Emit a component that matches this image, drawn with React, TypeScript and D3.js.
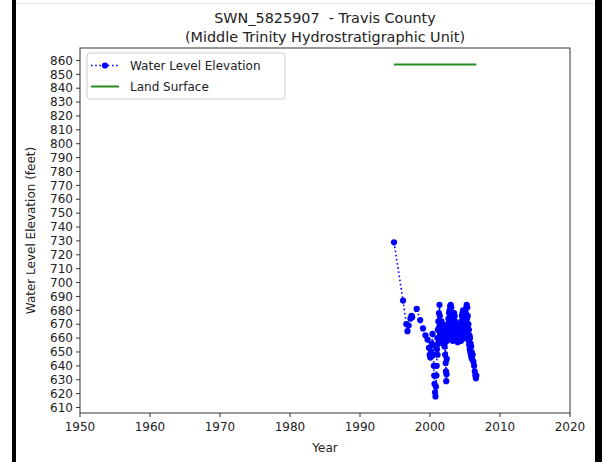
import React from 'react';
import * as d3 from 'd3';

// Observed water level elevations [year, feet]
const waterLevels: [number, number][] = [
  [1994.86, 729], [1996.15, 687], [1996.62, 670], [1996.78, 665], [1996.95, 669],
  [1997.2, 674], [1997.35, 676], [1997.45, 675], [1998.1, 681], [1998.6, 673],
  [1999.0, 667], [1999.35, 662], [1999.65, 659], [1999.85, 653], [1999.95, 648],
  [2000.05, 646], [2000.15, 650], [2000.25, 656], [2000.35, 663], [2000.42, 655],
  [2000.5, 648], [2000.55, 640], [2000.6, 633], [2000.65, 627], [2000.72, 621],
  [2000.78, 618], [2000.85, 625], [2000.92, 633], [2000.96, 640],
  [2001.0, 652], [2001.04, 660], [2001.08, 648], [2001.12, 666], [2001.16, 656],
  [2001.2, 672], [2001.24, 660], [2001.28, 678], [2001.32, 668], [2001.36, 684],
  [2001.4, 676], [2001.44, 664], [2001.48, 670], [2001.52, 658], [2001.56, 668],
  [2001.6, 660], [2001.64, 672], [2001.68, 657], [2001.72, 666], [2001.76, 659],
  [2001.8, 670], [2001.84, 662], [2001.88, 668], [2001.92, 656], [2001.96, 664],
  [2002.0, 658], [2002.04, 668], [2002.08, 654], [2002.12, 662], [2002.16, 648],
  [2002.2, 660], [2002.24, 642], [2002.28, 636], [2002.32, 629], [2002.36, 634],
  [2002.4, 645], [2002.44, 658], [2002.48, 666], [2002.52, 660], [2002.56, 670],
  [2002.6, 662], [2002.64, 674], [2002.68, 664], [2002.72, 678], [2002.76, 666],
  [2002.8, 680], [2002.84, 670], [2002.88, 683], [2002.92, 672], [2002.96, 684],
  [2003.0, 674], [2003.04, 682], [2003.08, 668], [2003.12, 676], [2003.16, 660],
  [2003.2, 672], [2003.24, 658], [2003.28, 668], [2003.32, 662], [2003.36, 674],
  [2003.4, 664], [2003.44, 678], [2003.48, 666], [2003.52, 676], [2003.56, 668],
  [2003.6, 672], [2003.64, 660], [2003.68, 670], [2003.72, 662], [2003.76, 668],
  [2003.8, 658], [2003.84, 666], [2003.88, 660], [2003.92, 664], [2003.96, 657],
  [2004.0, 665], [2004.04, 659], [2004.08, 668], [2004.12, 661], [2004.16, 670],
  [2004.2, 663], [2004.24, 668], [2004.28, 660], [2004.32, 670], [2004.36, 662],
  [2004.4, 668], [2004.44, 658], [2004.48, 672], [2004.52, 664], [2004.56, 676],
  [2004.6, 666], [2004.64, 678], [2004.68, 668], [2004.72, 680], [2004.76, 670],
  [2004.8, 676], [2004.84, 664], [2004.88, 672], [2004.92, 660], [2004.96, 670],
  [2005.0, 662], [2005.04, 674], [2005.08, 666], [2005.12, 678], [2005.16, 670],
  [2005.2, 682], [2005.24, 684], [2005.28, 674], [2005.32, 682], [2005.36, 668],
  [2005.4, 676], [2005.44, 662], [2005.48, 670], [2005.52, 658], [2005.56, 666],
  [2005.6, 655], [2005.64, 662], [2005.68, 652], [2005.72, 660], [2005.76, 650],
  [2005.8, 656], [2005.84, 648], [2005.88, 654], [2005.92, 646], [2005.96, 650],
  [2006.0, 645], [2006.1, 648], [2006.2, 643], [2006.3, 640], [2006.4, 636],
  [2006.48, 633], [2006.56, 631], [2006.62, 633],
];

const landSurface: [number, number][] = [
  [1994.86, 857],
  [2006.62, 857],
];

const xTicks = [1950, 1960, 1970, 1980, 1990, 2000, 2010, 2020];
const yTicks = d3.range(610, 861, 10);

const titleLines = ['SWN_5825907  - Travis County', '(Middle Trinity Hydrostratigraphic Unit)'];

const W = 602;
const H = 462;
const FONT = '"DejaVu Sans", sans-serif';

export default function App() {
  const left = 80;
  const right = 570;
  const top = 48;
  const bottom = 413;

  const x = d3.scaleLinear().domain([1950, 2020]).range([left, right]);
  const y = d3.scaleLinear().domain([606.05, 868.95]).range([bottom, top]);

  const line = d3
    .line<[number, number]>()
    .x((d) => x(d[0]))
    .y((d) => y(d[1]));

  const blue = '#0000ff';
  const green = '#228b22';
  const r = 3.1;

  return (
    <svg
      width={W}
      height={H}
      style={{ position: 'absolute', left: 0, top: 0, background: '#fff' }}
      fontFamily={FONT}
    >
      {/* frame of the screenshot */}
      <rect x={0} y={0} width={W} height={H} fill="#fff" />
      <rect x={12} y={0} width={4} height={H} fill="#000" />
      <rect x={595} y={0} width={7} height={H} fill="#000" />
      <line x1={16} x2={595} y1={3.5} y2={3.5} stroke="#e6e6e6" />

      {/* title */}
      {titleLines.map((t, i) => (
        <text
          key={t}
          x={(left + right) / 2}
          y={23 + i * 19}
          textAnchor="middle"
          fontSize={14.4}
          fill="#222"
          style={{ whiteSpace: 'pre' }}
        >
          {t}
        </text>
      ))}

      {/* data */}
      <path
        d={line(waterLevels) ?? ''}
        fill="none"
        stroke={blue}
        strokeWidth={1.6}
        strokeDasharray="1.6 2.6"
      />
      {waterLevels.map((d, i) => (
        <circle key={i} cx={x(d[0])} cy={y(d[1])} r={r} fill={blue} />
      ))}
      <path d={line(landSurface) ?? ''} fill="none" stroke={green} strokeWidth={2} />

      {/* axes frame */}
      <rect
        x={left}
        y={top}
        width={right - left}
        height={bottom - top}
        fill="none"
        stroke="#333"
        strokeWidth={1}
      />

      {/* x axis */}
      {xTicks.map((t) => (
        <g key={t}>
          <line x1={x(t)} x2={x(t)} y1={bottom} y2={bottom + 4} stroke="#333" />
          <text x={x(t)} y={bottom + 18} textAnchor="middle" fontSize={12} fill="#222">
            {t}
          </text>
        </g>
      ))}
      <text x={(left + right) / 2} y={452} textAnchor="middle" fontSize={12} fill="#222">
        Year
      </text>

      {/* y axis */}
      {yTicks.map((t) => (
        <g key={t}>
          <line x1={left - 4} x2={left} y1={y(t)} y2={y(t)} stroke="#333" />
          <text
            x={left - 7}
            y={y(t)}
            dy="0.35em"
            textAnchor="end"
            fontSize={12}
            fill="#222"
          >
            {t}
          </text>
        </g>
      ))}
      <text
        transform={`translate(35, ${(top + bottom) / 2}) rotate(-90)`}
        textAnchor="middle"
        fontSize={12}
        fill="#222"
      >
        Water Level Elevation (feet)
      </text>

      {/* legend */}
      <rect
        x={87}
        y={53}
        width={198}
        height={46}
        rx={3}
        fill="#fff"
        fillOpacity={0.85}
        stroke="#ccc"
      />
      <line
        x1={91}
        x2={119}
        y1={65.5}
        y2={65.5}
        stroke={blue}
        strokeWidth={1.6}
        strokeDasharray="1.6 2.6"
      />
      <circle cx={105} cy={65.5} r={r} fill={blue} />
      <text x={130} y={65.5} dy="0.35em" fontSize={12} fill="#222">
        Water Level Elevation
      </text>
      <line x1={91} x2={119} y1={86.5} y2={86.5} stroke={green} strokeWidth={2} />
      <text x={130} y={86.5} dy="0.35em" fontSize={12} fill="#222">
        Land Surface
      </text>
    </svg>
  );
}
